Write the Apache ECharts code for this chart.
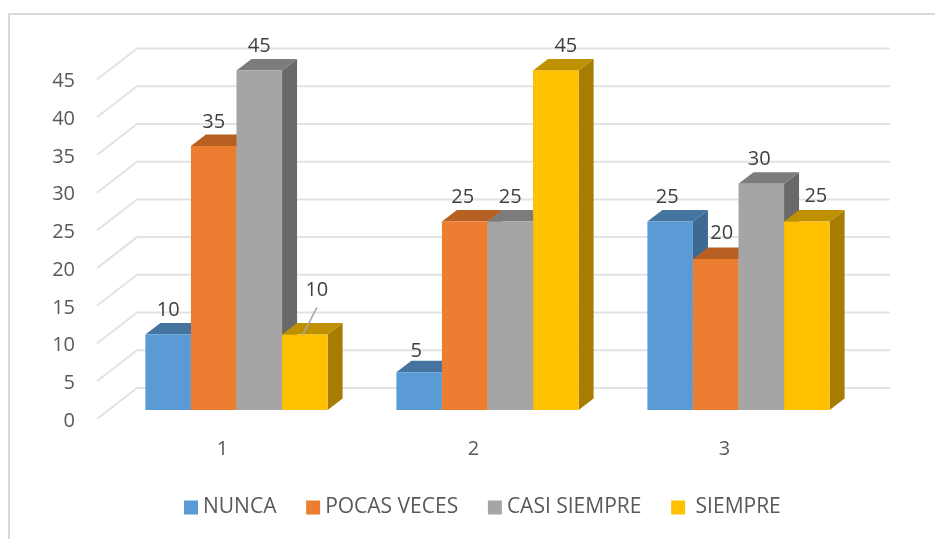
<!DOCTYPE html>
<html>
<head>
<meta charset="utf-8">
<style>html,body{margin:0;padding:0;background:#fff}#c{width:935px;height:539px}</style>
<script src="https://cdn.jsdelivr.net/npm/echarts@6/dist/echarts.min.js"></script>
</head>
<body>
<div id="c"></div>
<script>
const categories = ['1', '2', '3'];
const seriesNames = ['NUNCA', 'POCAS VECES', 'CASI SIEMPRE', ' SIEMPRE'];
const nunca = [10, 5, 25];
const pocasVeces = [35, 25, 20];
const casiSiempre = [45, 25, 30];
const siempre = [10, 45, 25];
const yTicks = [0, 5, 10, 15, 20, 25, 30, 35, 40, 45];

// styles
const faces = [
  { front: '#5B9BD5', top: '#44749F', side: '#3D6A93' },
  { front: '#ED7D31', top: '#B85F22', side: '#9E5320' },
  { front: '#A5A5A5', top: '#7C7C7C', side: '#696969' },
  { front: '#FFC000', top: '#BF9000', side: '#A67D00' }
];
const labelNudges = [
  [[0, 0], [-3, 3], [-3, 0]],
  [[0, 0], [-2, 0], [6, -2]],
  [[0, 0], [0, 0], [-2, 0]],
  [[12, -20, true], [10, 0], [9, -1]]
];
const FONT = '"Open Sans", sans-serif';
const barShare = 0.1815, barPlaneX = 14, barPlaneY = -9;
const depthX = 15, depthY = -11.5, wallX = 40, wallY = -31;

const values = [nunca, pocasVeces, casiSiempre, siempre];

function renderBar(s) {
  return function (params, api) {
    const cat = api.value(0), v = api.value(1);
    const band = api.size([1, 0])[0];
    const w = band * barShare;
    const top = api.coord([cat, v]);
    const base = api.coord([cat, 0]);
    const xl = top[0] + barPlaneX + (s - 2) * w;
    const xr = xl + w;
    const yt = top[1] + barPlaneY;
    const yb = base[1] + barPlaneY;
    const f = faces[s];
    const nudge = labelNudges[s][cat];
    const cx = (xl + xr) / 2;
    const lx = cx + nudge[0], ly = yt - 24 + nudge[1];
    const kids = [
      { type: 'polygon', shape: { points: [[xr, yt], [xr + depthX, yt + depthY], [xr + depthX, yb + depthY], [xr, yb]] }, style: { fill: f.side } },
      { type: 'polygon', shape: { points: [[xl, yt], [xl + depthX, yt + depthY], [xr + depthX, yt + depthY], [xr, yt]] }, style: { fill: f.top } },
      { type: 'rect', shape: { x: xl, y: yt, width: w, height: yb - yt }, style: { fill: f.front } },
      { type: 'text', z2: 100, style: { x: lx, y: ly, text: String(v), fill: '#404040', font: '20px ' + FONT, align: 'center', verticalAlign: 'middle' } }
    ];
    if (nudge[2]) {
      kids.push({ type: 'line', z2: 90, shape: { x1: cx - 2, y1: yt, x2: lx, y2: ly + 17 }, style: { stroke: '#A6A6A6', lineWidth: 1.5 } });
    }
    return { type: 'group', children: kids };
  };
}

function renderWall(params, api) {
  const v = api.value(0);
  const cs = params.coordSys;
  const y = api.coord([0, v])[1];
  return {
    type: 'polyline',
    shape: { points: [[cs.x, y], [cs.x + wallX, y + wallY], [cs.x + cs.width + wallX, y + wallY]] },
    style: { fill: 'none', stroke: '#E3E3E3', lineWidth: 2 }
  };
}

const chart = echarts.init(document.getElementById('c'), null, { renderer: 'canvas' });
chart.setOption({
  animation: false,
  backgroundColor: '#fff',
  graphic: [{
    type: 'polyline', silent: true, z: -1,
    shape: { points: [[9, 539], [9, 14], [935, 14]] },
    style: { fill: 'none', stroke: '#D9D9D9', lineWidth: 2 }
  }],
  legend: {
    left: 184, top: 497, padding: 0, icon: 'rect', itemWidth: 14, itemHeight: 14, itemGap: 29.7,
    data: seriesNames,
    textStyle: { fontFamily: FONT, fontSize: 21, color: '#595959' }
  },
  grid: { left: 97, right: 85, top: 79.5, bottom: 120 },
  xAxis: {
    type: 'category', data: categories,
    axisLine: { show: false }, axisTick: { show: false }, splitLine: { show: false },
    axisLabel: { margin: 20, fontFamily: FONT, fontSize: 20, color: '#595959' }
  },
  yAxis: {
    type: 'value', min: 0, max: 45, interval: 5,
    axisLine: { show: false }, axisTick: { show: false }, splitLine: { show: false },
    axisLabel: {
      margin: 22, formatter: '{a|{value}}',
      rich: { a: { fontFamily: FONT, fontSize: 20, color: '#595959', padding: [4, 0, 0, 0] } }
    }
  },
  series: [
    { type: 'custom', name: 'wall', z: 1, silent: true, renderItem: renderWall, data: yTicks.map(v => [v]), encode: { y: 0 } }
  ].concat(seriesNames.map((name, s) => ({
    type: 'custom', name: name, z: 2, clip: false,
    itemStyle: { color: faces[s].front },
    renderItem: renderBar(s),
    encode: { x: 0, y: 1 },
    data: values[s].map((v, i) => [i, v])
  })))
});
</script>
</body>
</html>
